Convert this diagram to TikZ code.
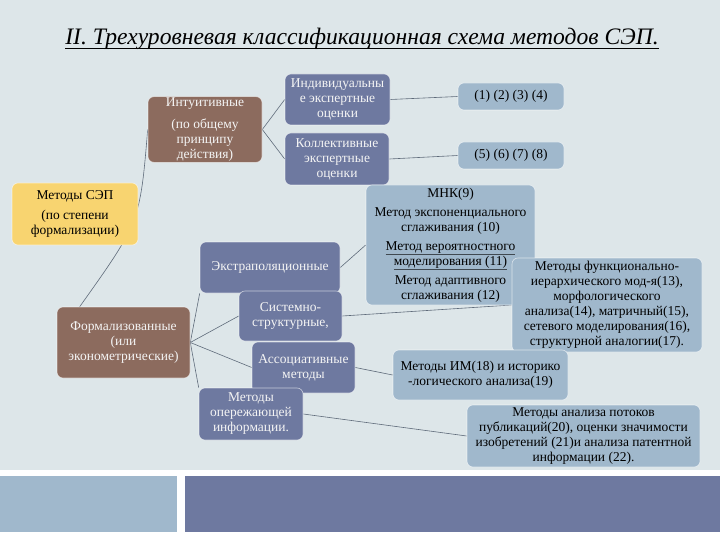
\documentclass[tikz,border=0pt]{standalone}
\usepackage{fontspec}
\setmainfont{Liberation Serif}
\usetikzlibrary{calc,backgrounds}
\definecolor{bg}{HTML}{DDE6E9}
\definecolor{ylw}{HTML}{F8D470}
\definecolor{brn}{HTML}{8C6B5E}
\definecolor{pur}{HTML}{6E79A0}
\definecolor{lbl}{HTML}{A0B8CC}
\definecolor{lnk}{HTML}{5F6B7A}
\definecolor{wtxt}{HTML}{F4F4F4}
\begin{document}
\begin{tikzpicture}[x=1pt,y=-1pt,
  box/.style={rounded corners=6pt, draw=white, draw opacity=0.6, line width=0.6pt,
    align=center, inner sep=1pt, font=\fontsize{13.5}{15}\selectfont},
  ybox/.style={box, fill=ylw, text=black},
  bbox/.style={box, fill=brn, text=wtxt},
  pbox/.style={box, fill=pur, text=wtxt},
  lbox/.style={box, fill=lbl, text=black},
  link/.style={draw=lnk, line width=0.6pt}]
\useasboundingbox (0,0) rectangle (720,540);

% title
\node[inner sep=0pt, anchor=base, font=\fontsize{23.6}{26}\selectfont\itshape] (title) at (362,45)
  {II. Трехуровневая классификационная схема методов СЭП.};
\draw[line width=1.3pt] ($(title.base west)+(0,3.5)$) -- ($(title.base east)+(0,3.5)$);

% nodes
\node[ybox, minimum width=126, minimum height=62] (sep) at (75,214)
  {Методы СЭП\\[5pt](по степени\\формализации)};
\node[bbox, minimum width=114, minimum height=63] (intuit) at (205,129.5)
  {Интуитивные\\[7pt](по общему\\принципу\\действия)};
\node[pbox, minimum width=105, minimum height=51] (indiv) at (337.5,99.5)
  {Индивидуальны\\е экспертные\\оценки};
\node[pbox, minimum width=104, minimum height=52] (koll) at (337,159)
  {Коллективные\\экспертные\\оценки};
\node[lbox, minimum width=106, minimum height=27] (n14) at (511,96.5) {(1) (2) (3) (4)};
\node[lbox, minimum width=106, minimum height=27] (n58) at (511,155.5) {(5) (6) (7) (8)};
\node[lbox, minimum width=169, minimum height=120] (mnk) at (450.5,245)
  {МНК(9)\\[4pt]Метод экспоненциального\\сглаживания (10)\\[4pt]\underline{Метод вероятностного}\\\underline{моделирования (11)}\\[4pt]Метод адаптивного\\сглаживания (12)};
\node[lbox, minimum width=190, minimum height=94] (func) at (607,305)
  {Методы функционально-\\иерархического мод-я(13),\\морфологического\\анализа(14), матричный(15),\\сетевого моделирования(16),\\структурной аналогии(17).};
\node[lbox, minimum width=175, minimum height=50] (im) at (480.5,375)
  {Методы ИМ(18) и историко\\-логического анализа(19)};
\node[lbox, minimum width=233, minimum height=62] (pat) at (583.5,436)
  {Методы анализа потоков\\публикаций(20), оценки значимости\\изобретений (21)и анализа патентной\\информации (22).};
\node[bbox, minimum width=133, minimum height=71] (form) at (123.5,342.5)
  {Формализованные\\(или\\эконометрические)};
\node[pbox, minimum width=140, minimum height=51] (extr) at (270,267.5) {Экстраполяционные};
\node[pbox, minimum width=103, minimum height=50] (sist) at (290.5,316)
  {Системно-\\структурные,};
\node[pbox, minimum width=103, minimum height=51] (assoc) at (303.5,367.5)
  {Ассоциативные\\методы};
\node[pbox, minimum width=104, minimum height=52] (oper) at (251,414)
  {Методы\\опережающей\\информации.};

\begin{scope}[on background layer]
  \fill[white] (0,0) rectangle (720,540);
  \fill[bg] (0,0) rectangle (720,470);
  \fill[lbl] (0,476) rectangle (177,532);
  \fill[pur] (185,476) rectangle (720,532);
  \draw[link] (intuit.west) .. controls (140,222) and (140,222) .. ($(form.north west)+(23,0)$);
  \draw[link] (intuit.east) -- (indiv.west);
  \draw[link] (intuit.east) -- (koll.west);
  \draw[link] (indiv.east) -- (n14.west);
  \draw[link] (koll.east) -- (n58.west);
  \draw[link] (form.east) -- (extr.south west);
  \draw[link] (form.east) -- (sist.west);
  \draw[link] (form.east) -- (assoc.west);
  \draw[link] (form.east) -- (oper.north west);
  \draw[link] (extr.east) -- (mnk.west);
  \draw[link] (sist.east) -- (func.west);
  \draw[link] (assoc.east) -- (im.west);
  \draw[link] (oper.east) -- (pat.west);
\end{scope}
\end{tikzpicture}
\end{document}
